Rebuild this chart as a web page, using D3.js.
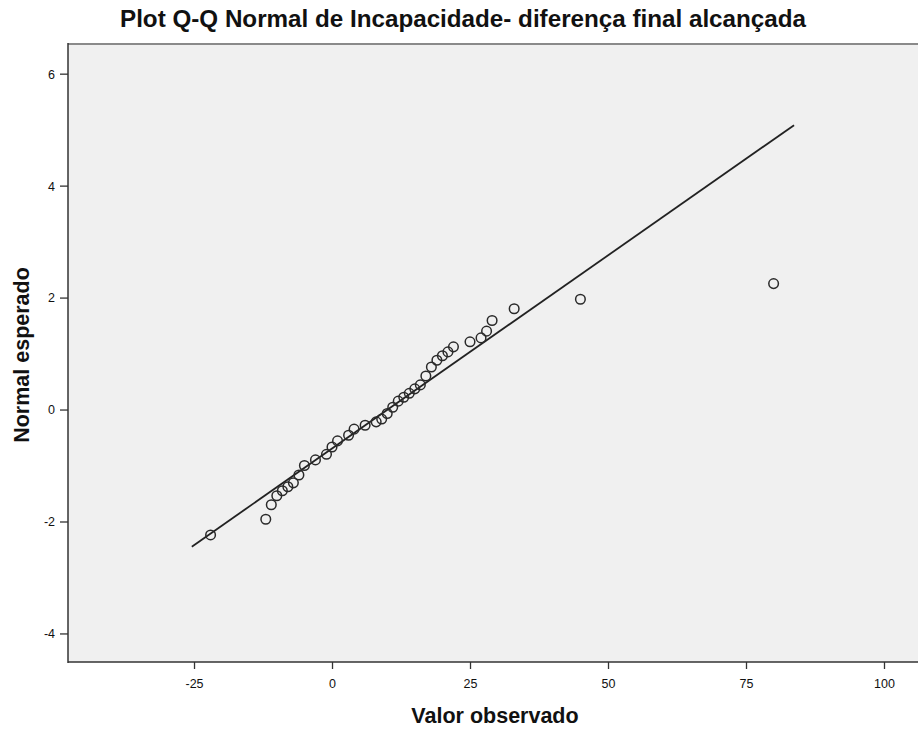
<!DOCTYPE html>
<html><head><meta charset="utf-8">
<script src="https://cdn.jsdelivr.net/npm/d3@7"></script>
<style>body{margin:0;background:#fff}</style>
</head><body><svg id="c" width="918" height="734"></svg>
<script>
// Observed values (x) and expected normal values (y)
const observed = [-22, -12, -11, -10, -9, -8, -7, -6, -5, -3, -1, 0, 1, 3, 4, 6, 8, 9, 10, 11, 12, 13, 14, 15, 16, 17, 18, 19, 20, 21, 22, 25, 27, 28, 29, 33, 45, 80];
const expected = [-2.24, -1.96, -1.70, -1.54, -1.45, -1.38, -1.31, -1.17, -1.00, -0.90, -0.80, -0.67, -0.56, -0.46, -0.35, -0.28, -0.22, -0.17, -0.07, 0.04, 0.15, 0.22, 0.29, 0.37, 0.44, 0.60, 0.76, 0.88, 0.96, 1.03, 1.12, 1.21, 1.28, 1.40, 1.59, 1.80, 1.97, 2.25];
const refLineX = [-25.4, 83.7];
const refLineY = [-2.45, 5.08];
const xTicks = [-25, 0, 25, 50, 75, 100];
const yTicks = [-4, -2, 0, 2, 4, 6];
const titleText = "Plot Q-Q Normal de Incapacidade- diferença final alcançada";
const xTitle = "Valor observado";
const yTitle = "Normal esperado";

const svg = d3.select("#c");
const L = 68, T = 44, R = 918, B = 662;
const x = d3.scaleLinear().domain([-47.83, 106.16]).range([L, R]);
const y = d3.scaleLinear().domain([-4.51, 6.53]).range([B, T]);

const font = "'Liberation Sans',Arial,sans-serif";

svg.append("rect").attr("x", L).attr("y", T).attr("width", R - L).attr("height", B - T).attr("fill", "#f0f0f0");
svg.append("line").attr("x1", L).attr("x2", R).attr("y1", T).attr("y2", T).attr("stroke", "#8a8a8a").attr("stroke-width", 2);

const xa = svg.append("g").attr("transform", `translate(0,${B})`)
  .call(d3.axisBottom(x).tickValues(xTicks).tickFormat(d => String(d)).tickSize(7).tickPadding(10));
const ya = svg.append("g").attr("transform", `translate(${L},0)`)
  .call(d3.axisLeft(y).tickValues(yTicks).tickFormat(d => String(d)).tickSize(8).tickPadding(5));
[xa, ya].forEach(g => {
  g.select(".domain").remove();
  g.selectAll(".tick line").attr("stroke", "#333").attr("stroke-width", 1.3);
  g.selectAll(".tick text").attr("fill", "#111").attr("font-family", font).attr("font-size", 12.5);
});
ya.selectAll(".tick text").attr("dy", "0.35em");
// axis lines
svg.append("line").attr("x1", L).attr("x2", L).attr("y1", T - 1).attr("y2", B + 1).attr("stroke", "#333").attr("stroke-width", 1.5);
svg.append("line").attr("x1", L).attr("x2", R).attr("y1", B).attr("y2", B).attr("stroke", "#333").attr("stroke-width", 1.5);

// reference line
svg.append("line")
  .attr("x1", x(refLineX[0])).attr("y1", y(refLineY[0]))
  .attr("x2", x(refLineX[1])).attr("y2", y(refLineY[1]))
  .attr("stroke", "#222").attr("stroke-width", 1.8);

// points
svg.append("g").selectAll("circle").data(observed.map((v, i) => [v, expected[i]])).join("circle")
  .attr("cx", d => x(d[0])).attr("cy", d => y(d[1])).attr("r", 4.8)
  .attr("fill", "none").attr("stroke", "#2a2a2a").attr("stroke-width", 1.5);

svg.append("text").attr("x", 463).attr("y", 27).attr("text-anchor", "middle")
  .attr("font-family", font).attr("font-weight", "bold").attr("font-size", 23).attr("fill", "#111")
  .attr("textLength", 686).attr("lengthAdjust", "spacingAndGlyphs").text(titleText);
svg.append("text").attr("x", 495).attr("y", 723).attr("text-anchor", "middle")
  .attr("font-family", font).attr("font-weight", "bold").attr("font-size", 21.5).attr("fill", "#111")
  .text(xTitle);
svg.append("text").attr("transform", "translate(29,355) rotate(-90)").attr("text-anchor", "middle")
  .attr("font-family", font).attr("font-weight", "bold").attr("font-size", 21.5).attr("fill", "#111")
  .text(yTitle);
</script></body></html>
